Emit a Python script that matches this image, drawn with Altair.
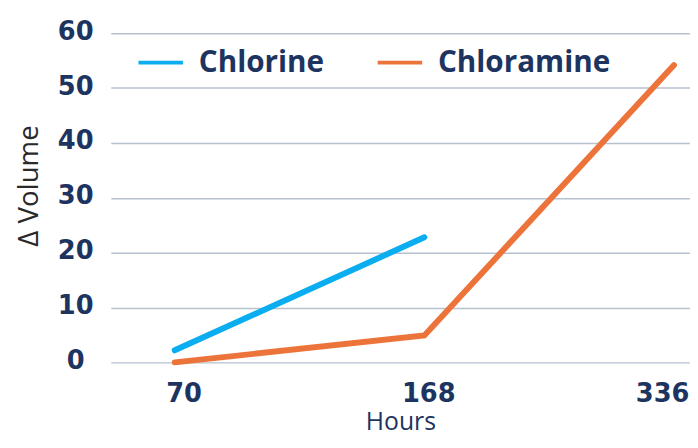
import altair as alt
import pandas as pd

hours = ["70", "168", "336"]
series_names = ["Chlorine", "Chloramine"]
chlorine_hours = ["70", "168"]
chlorine_values = [2.2, 22.8]
chloramine_hours = ["70", "168", "336"]
chloramine_values = [0.0, 4.9, 54.2]
colors = ["#0aaef0", "#ec743a"]
y_ticks = [0, 10, 20, 30, 40, 50, 60]

rows = []
for h, v in zip(chlorine_hours, chlorine_values):
    rows.append({"Hours": h, "Value": v, "Series": "Chlorine"})
for h, v in zip(chloramine_hours, chloramine_values):
    rows.append({"Hours": h, "Value": v, "Series": "Chloramine"})
df = pd.DataFrame(rows)

NAVY = "#1d3461"
FONT = "Open Sans"
NUMFONT = "DejaVu Sans"

x_label_offset = {
    "condition": [
        {"test": "datum.value == '70'", "value": 9},
        {"test": "datum.value == '336'", "value": -12},
    ],
    "value": 4,
}

chart = alt.Chart(df).mark_line(strokeWidth=6, strokeCap="round", strokeJoin="miter").encode(
    x=alt.X("Hours:N", sort=hours,
            scale=alt.Scale(type="point", domain=hours, padding=0.16, align=0.8),
            axis=alt.Axis(title="Hours", labelAngle=0, ticks=False, tickSize=0, domain=False,
                          grid=False, labelPadding=19, labelFontSize=26, labelFontWeight="bold",
                          labelColor=NAVY, labelFont=NUMFONT, labelOffset=x_label_offset,
                          titleFont=FONT, titleFontSize=25, titleFontWeight="normal",
                          titleColor=NAVY, titleBaseline="alphabetic", titleY=68)),
    y=alt.Y("Value:Q", scale=alt.Scale(domain=[0, 60], nice=False),
            axis=alt.Axis(title="Δ Volume", values=y_ticks, ticks=False, tickSize=0, domain=False,
                          grid=True, gridColor="#b7c1cf", gridWidth=1.5,
                          labelAlign="center", labelPadding=36, labelFontSize=26,
                          labelFontWeight="bold", labelColor=NAVY, labelFont=NUMFONT,
                          labelOffset=-2,
                          titleFont=FONT, titleFontSize=28, titleFontWeight="normal",
                          titleColor="#2a2a2a", titleAngle=270, titleAlign="center",
                          titleBaseline="alphabetic", titleX=-74, titleY=154)),
    color=alt.Color("Series:N", sort=series_names,
                    scale=alt.Scale(domain=series_names, range=colors),
                    legend=alt.Legend(title=None, orient="none", direction="horizontal",
                                      legendX=26, legendY=5, symbolType="stroke",
                                      symbolSize=2025, symbolStrokeWidth=4,
                                      labelFontSize=30, labelFont=FONT, labelFontWeight="bold",
                                      labelColor=NAVY, labelOffset=14, columnPadding=46,
                                      labelLimit=400, padding=0)),
).properties(
    width=586, height=333,
    autosize=alt.AutoSizeParams(type="none"),
    padding={"left": 104, "top": 23, "right": 0, "bottom": 76},
).configure_view(stroke=None)

chart.save("out.html", embed_options={"renderer": "svg", "actions": False})
